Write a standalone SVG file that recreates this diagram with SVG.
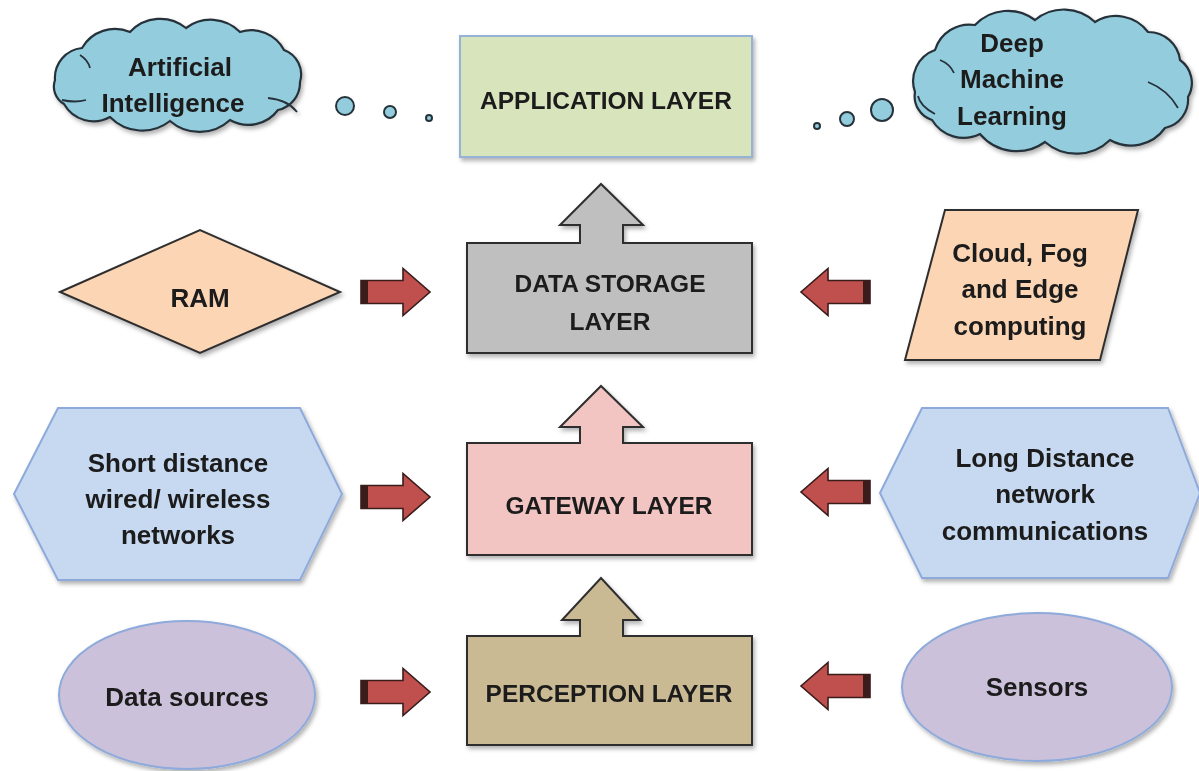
<svg xmlns="http://www.w3.org/2000/svg" width="1199" height="771" viewBox="0 0 1199 771">
<style>
text{font-family:"Liberation Sans",Arial,sans-serif;font-weight:bold;fill:#1b1b1b;text-anchor:middle}
.lay{font-size:24.5px}
.side{font-size:26px}
.cloud{fill:#93cddd;stroke:#26323a;stroke-width:2.2}
.bub{fill:#93cddd;stroke:#26323a;stroke-width:2}
.dark{stroke:#2f2f2f;stroke-width:2;stroke-linejoin:miter}
.blue{fill:#c6d9f1;stroke:#8eaadb;stroke-width:2}
.peach{fill:#fcd5b4;stroke:#2f2f2f;stroke-width:2}
.lilac{fill:#ccc1da;stroke:#8eaadb;stroke-width:2}
.ra{fill:#c0504d;stroke:#3a1c1b;stroke-width:1.6}
.cap{fill:#3a1c1b}
.curl{fill:none;stroke:#26323a;stroke-width:1.8}
</style>
<defs>
<filter id="sh" x="-10%" y="-10%" width="130%" height="130%">
<feDropShadow dx="2" dy="3" stdDeviation="2" flood-color="#000" flood-opacity="0.3"/>
</filter>
<g id="arrowR">
<path class="ra" d="M0 -11.5 H42 V-23.5 L69 0 L42 23.5 V11.5 H0 Z"/>
<rect class="cap" x="0" y="-11.5" width="7" height="23"/>
</g>
<g id="arrowL">
<path class="ra" d="M0 -11.5 H-42 V-23.5 L-69 0 L-42 23.5 V11.5 H0 Z"/>
<rect class="cap" x="-7" y="-11.5" width="7" height="23"/>
</g>
</defs>

<g id="ai" filter="url(#sh)">
<path class="cloud" d="M55 80 A30 30 0 0 1 82 48 A38 38 0 0 1 130 32 A41 41 0 0 1 186 28 A41 41 0 0 1 240 32 A37 37 0 0 1 284 50 A26 26 0 0 1 300 82 A28 28 0 0 1 278 110 A37 37 0 0 1 230 120 A45 45 0 0 1 170 121 A45 45 0 0 1 110 117 A34 34 0 0 1 64 104 A20 20 0 0 1 55 80 Z"/>
<path class="curl" d="M268 98 Q288 100 297 112 M86 100 Q75 103 62 100 M80 55 Q88 60 90 68"/>
<text class="side" x="180" y="76">Artificial</text>
<text class="side" x="173" y="112">Intelligence</text>
</g>
<g id="ai-bubbles">
<circle class="bub" cx="345" cy="106" r="9"/>
<circle class="bub" cx="390" cy="112" r="6"/>
<circle class="bub" cx="429" cy="118" r="3"/>
</g>

<g id="dml" filter="url(#sh)">
<path class="cloud" d="M915 92 A33 33 0 0 1 935 50 A36 36 0 0 1 975 25 A45 45 0 0 1 1035 20 A45 45 0 0 1 1095 22 A40 40 0 0 1 1148 32 A32 32 0 0 1 1180 60 A28 28 0 0 1 1188 97 A29 29 0 0 1 1165 128 A42 42 0 0 1 1110 140 A48 48 0 0 1 1045 142 A48 48 0 0 1 980 134 A37 37 0 0 1 932 120 A25 25 0 0 1 915 92 Z"/>
<path class="curl" d="M1148 82 Q1168 90 1178 108 M935 114 Q920 106 918 96 M940 60 Q950 64 954 73"/>
<text class="side" x="1012" y="52">Deep</text>
<text class="side" x="1012" y="88">Machine</text>
<text class="side" x="1012" y="125">Learning</text>
</g>
<g id="dml-bubbles">
<circle class="bub" cx="817" cy="126" r="3"/>
<circle class="bub" cx="847" cy="119" r="7"/>
<circle class="bub" cx="882" cy="110" r="11"/>
</g>

<g id="application" filter="url(#sh)">
<rect x="460" y="36" width="292" height="121" fill="#d7e4bc" stroke="#95b3d7" stroke-width="2"/>
<text class="lay" x="606" y="109">APPLICATION LAYER</text>
</g>

<g id="datastorage" filter="url(#sh)">
<path class="dark" fill="#bfbfbf" d="M467 243 H580 V225 H560 L601 184 L643 225 H623 V243 H752 V353 H467 Z"/>
<text class="lay" x="610" y="292">DATA STORAGE</text>
<text class="lay" x="610" y="330">LAYER</text>
</g>

<g id="gateway" filter="url(#sh)">
<path class="dark" fill="#f2c4c2" d="M467 443 H580 V427 H560 L601 386 L643 427 H623 V443 H752 V555 H467 Z"/>
<text class="lay" x="609" y="514">GATEWAY LAYER</text>
</g>

<g id="perception" filter="url(#sh)">
<path class="dark" fill="#c9ba93" d="M467 636 H580 V620 H562 L601 578 L640 620 H623 V636 H752 V745 H467 Z"/>
<text class="lay" x="609" y="702">PERCEPTION LAYER</text>
</g>

<g id="ram" filter="url(#sh)">
<path class="peach" d="M60 292 L200 230 L340 292 L200 353 Z"/>
<text class="side" x="200" y="307">RAM</text>
</g>

<g id="cloudfog" filter="url(#sh)">
<path class="peach" d="M945 210 H1138 L1100 360 H905 Z"/>
<text class="side" x="1020" y="262">Cloud, Fog</text>
<text class="side" x="1020" y="298">and Edge</text>
<text class="side" x="1020" y="335">computing</text>
</g>

<g id="shortdist" filter="url(#sh)">
<path class="blue" d="M14 494 L58 408 H300 L342 494 L300 580 H58 Z"/>
<text class="side" x="178" y="472">Short distance</text>
<text class="side" x="178" y="508">wired/ wireless</text>
<text class="side" x="178" y="544">networks</text>
</g>

<g id="longdist" filter="url(#sh)">
<path class="blue" d="M880 493 L922 408 H1168 L1200 493 L1168 578 H922 Z"/>
<text class="side" x="1045" y="467">Long Distance</text>
<text class="side" x="1045" y="503">network</text>
<text class="side" x="1045" y="540">communications</text>
</g>

<g id="datasources" filter="url(#sh)">
<ellipse class="lilac" cx="187" cy="695" rx="128" ry="74"/>
<text class="side" x="187" y="706">Data sources</text>
</g>

<g id="sensors" filter="url(#sh)">
<ellipse class="lilac" cx="1037" cy="687" rx="135" ry="74"/>
<text class="side" x="1037" y="696">Sensors</text>
</g>

<g id="connectors">
<use href="#arrowR" x="361" y="292"/>
<use href="#arrowR" x="361" y="497"/>
<use href="#arrowR" x="361" y="692"/>
<use href="#arrowL" x="870" y="292"/>
<use href="#arrowL" x="870" y="492"/>
<use href="#arrowL" x="870" y="686"/>
</g>
</svg>
